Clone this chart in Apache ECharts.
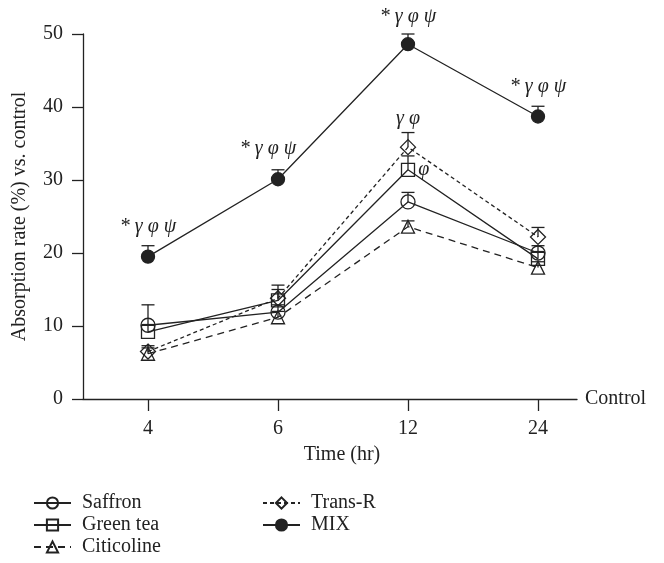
<!DOCTYPE html>
<html><head><meta charset="utf-8">
<script src="https://cdn.jsdelivr.net/npm/echarts@6/dist/echarts.min.js"></script>
<style>html,body{margin:0;padding:0;background:#fff}#c{width:664px;height:563px}</style>
</head><body><div id="c"></div><script>
// ---- data ----
const categories = ['4', '6', '12', '24'];
const saffron     = [10.1, 11.9, 27.0, 20.0];
const saffronErr  = [2.8, 1.0, 1.3, 1.0];
const greenTea    = [9.2, 13.5, 31.4, 19.2];
const greenTeaErr = [1.0, 1.5, 1.9, 1.0];
const citicoline  = [6.2, 11.2, 23.6, 18.0];
const citicolineErr = [0.8, 0.8, 0.8, 0.8];
const transR      = [6.5, 13.8, 34.5, 22.2];
const transRErr   = [0.8, 1.8, 2.0, 1.3];
const mix         = [19.5, 30.1, 48.6, 38.7];
const mixErr      = [1.5, 1.3, 1.4, 1.4];
const mixNotes    = ['* γ φ ψ', '* γ φ ψ', '* γ φ ψ', '* γ φ ψ'];
const transRNotes = ['', '', 'γ φ', ''];
const greenTeaNotes = ['', '', 'φ', ''];
const yTicks = [0, 10, 20, 30, 40, 50];

// ---- styling ----
const INK = '#222';
const FONT = 'Liberation Serif';
const FS = 20;

function pts(vals, notes, labelCfg) {
  return vals.map((v, i) => {
    const item = { value: [i, v] };
    if (notes && notes[i]) {
      item.label = Object.assign({ show: true, formatter: notes[i] }, labelCfg(i));
    }
    return item;
  });
}

function lineSeries(name, vals, symbol, size, dash, filled, notes, labelCfg) {
  return {
    name, type: 'line', data: pts(vals, notes, labelCfg),
    symbol, symbolSize: size, showAllSymbol: true,
    lineStyle: { color: INK, width: 1.3, type: dash },
    itemStyle: { color: filled ? INK : 'rgba(0,0,0,0)', borderColor: INK, borderWidth: 1.3 },
    label: { show: false, color: INK, fontFamily: FONT, fontSize: FS, fontStyle: 'italic' },
    emphasis: { disabled: true }, silent: true, z: 3
  };
}

function errSeries(vals, errs) {
  return {
    type: 'custom', silent: true, z: 2,
    data: vals.map((v, i) => [i, v, v + errs[i]]),
    encode: { x: 0, y: [1, 2] },
    renderItem: (params, api) => {
      const p0 = api.coord([api.value(0), api.value(1)]);
      const p1 = api.coord([api.value(0), api.value(2)]);
      const st = { stroke: INK, lineWidth: 1.3 };
      return { type: 'group', children: [
        { type: 'line', shape: { x1: p0[0], y1: p0[1], x2: p1[0], y2: p1[1] }, style: st },
        { type: 'line', shape: { x1: p1[0] - 6.5, y1: p1[1], x2: p1[0] + 6.5, y2: p1[1] }, style: st }
      ]};
    }
  };
}

const topLabel = i => ({ position: 'top', distance: 13, offset: [i === 1 ? -10 : 0, i === 2 ? 3 : 0] });
const rightLabel = i => ({ position: 'right', distance: 3 });

const chart = echarts.init(document.getElementById('c'), null, { renderer: 'canvas' });
const tickIdx = categories.map((c, i) => i);
const legendText = { color: INK, fontFamily: FONT, fontSize: FS, lineHeight: 20, padding: [0, 0, 0, 6] };
const legendBase = { orient: 'vertical', top: 493, padding: 0, height: 70,
  itemWidth: 37, itemHeight: 14, itemGap: 2, textStyle: legendText, selectedMode: false };

chart.setOption({
  animation: false,
  backgroundColor: '#fff',
  grid: { left: 83, right: 87, top: 34, bottom: 164 },
  legend: [
    Object.assign({ data: ['Saffron', 'Green tea', 'Citicoline'], left: 33 }, legendBase),
    Object.assign({ data: ['Trans-R', 'MIX'], left: 262 }, legendBase)
  ],
  xAxis: [
    { type: 'value', min: -0.5, max: 3.3,
      axisLine: { show: true, onZero: false, lineStyle: { color: INK, width: 1.3 } },
      axisTick: { show: true, length: 12, customValues: tickIdx, lineStyle: { color: INK, width: 1.3 } },
      axisLabel: { customValues: tickIdx, formatter: v => categories[Math.round(v)], margin: 20,
        color: INK, fontFamily: FONT, fontSize: FS },
      splitLine: { show: false },
      name: 'Control', nameLocation: 'end', nameGap: 8,
      nameTextStyle: { color: INK, fontFamily: FONT, fontSize: FS }
    },
    { type: 'value', min: -0.5, max: 3.3, position: 'bottom',
      axisLine: { show: false, onZero: false }, axisTick: { show: false }, axisLabel: { show: false }, splitLine: { show: false },
      name: 'Time (hr)', nameLocation: 'middle', nameGap: 46,
      nameTextStyle: { color: INK, fontFamily: FONT, fontSize: FS, padding: [0, 0, 0, 24] }
    }
  ],
  yAxis: {
    type: 'value', min: yTicks[0], max: yTicks[yTicks.length - 1], interval: 10,
    axisLine: { show: true, onZero: false, lineStyle: { color: INK, width: 1.3 } },
    axisTick: { show: true, length: 11, lineStyle: { color: INK, width: 1.3 } },
    axisLabel: { margin: 20, color: INK, fontFamily: FONT, fontSize: FS },
    splitLine: { show: false },
    name: 'Absorption rate (%) vs. control', nameLocation: 'middle', nameGap: 53,
    nameTextStyle: { color: INK, fontFamily: FONT, fontSize: FS }
  },
  series: [
    errSeries(saffron, saffronErr),
    errSeries(greenTea, greenTeaErr),
    errSeries(citicoline, citicolineErr),
    errSeries(transR, transRErr),
    errSeries(mix, mixErr),
    lineSeries('Saffron', saffron, 'circle', 14, 'solid', false),
    lineSeries('Green tea', greenTea, 'rect', 13, 'solid', false, greenTeaNotes, rightLabel),
    lineSeries('Citicoline', citicoline, 'triangle', 13, [7, 5], false),
    lineSeries('Trans-R', transR, 'diamond', 15, [4, 3], false, transRNotes, topLabel),
    lineSeries('MIX', mix, 'circle', 13, 'solid', true, mixNotes, topLabel)
  ]
});
</script></body></html>
